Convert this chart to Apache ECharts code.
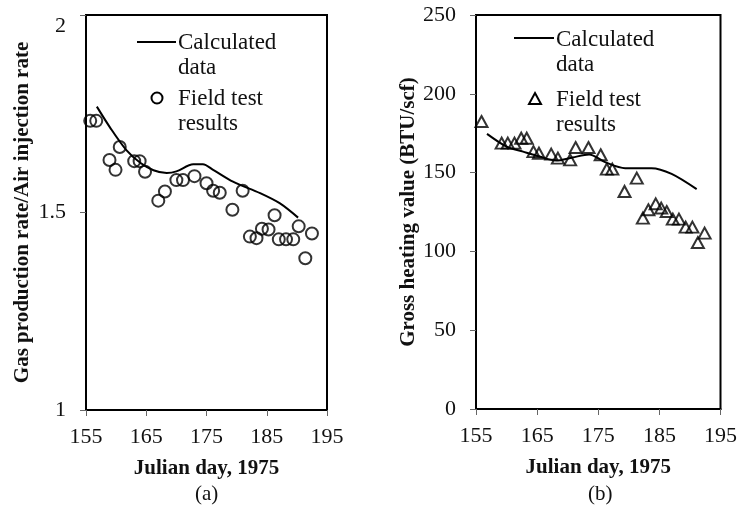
<!DOCTYPE html>
<html>
<head>
<meta charset="utf-8">
<script src="https://cdn.jsdelivr.net/npm/echarts@6/dist/echarts.min.js"></script>
<style>html,body{margin:0;padding:0;background:#fff;}#c{width:740px;height:506px;}</style>
</head>
<body>
<div id="c"></div>
<script>
// Panel (a): Gas production rate / Air injection rate
const fieldA = [[155.7,1.732],[156.7,1.732],[158.9,1.633],[159.9,1.608],[160.6,1.666],[163.0,1.63],[163.9,1.63],[164.8,1.603],[167.0,1.53],[168.1,1.553],[170.0,1.582],[171.1,1.582],[173.0,1.592],[175.0,1.574],[176.1,1.555],[177.2,1.55],[179.3,1.507],[181.0,1.555],[182.2,1.439],[183.3,1.435],[184.2,1.459],[185.3,1.457],[186.3,1.493],[187.0,1.432],[188.2,1.432],[189.4,1.432],[190.3,1.465],[191.4,1.384],[192.5,1.447]];
const calcA = [[156.8,1.768],[159.0,1.715],[161.7,1.658],[164.0,1.626],[166.2,1.607],[168.4,1.600],[170.0,1.604],[172.8,1.622],[174.4,1.622],[176.1,1.608],[179.4,1.578],[183.9,1.549],[187.2,1.523],[190.2,1.487]];
// Panel (b): Gross heating value (BTU/scf)
const fieldB = [[155.9,182.4],[159.2,168.7],[160.2,168.7],[161.3,168.7],[162.4,171.8],[163.3,171.8],[164.4,163.3],[165.3,162.3],[167.3,161.7],[168.4,159.2],[170.4,158.1],[171.3,165.9],[173.4,165.9],[175.4,161.3],[176.4,152.2],[177.3,152.2],[179.3,138.0],[181.3,146.5],[182.3,121.1],[183.2,126.4],[184.4,130.2],[185.3,127.5],[186.2,125.3],[187.2,120.5],[188.2,120.5],[189.3,115.4],[190.4,115.4],[191.3,105.6],[192.4,111.6]];
const calcB = [[156.8,174.6],[160.0,166.5],[162.7,163.3],[165.4,160.2],[168.1,157.6],[170.8,159.6],[173.5,161.5],[176.2,156.5],[179.4,152.8],[183.7,152.8],[187.0,149.2],[191.1,139.5]];

const xTicks = {min:155, max:195, interval:10};
const yTicksA = {min:1, max:2, interval:0.5};
const yTicksB = {min:0, max:250, interval:50};
const xName = 'Julian day, 1975';
const yNameA = 'Gas production rate/Air injection rate';
const yNameB = 'Gross heating value (BTU/scf)';
const legendLine = 'Calculated\ndata';
const legendPts = 'Field test\nresults';

const FONT = "'Liberation Serif','Times New Roman',serif";
const chart = echarts.init(document.getElementById('c'), null, {renderer:'canvas'});

function xAxis(gi){
  return {
    type:'value', gridIndex:gi, min:xTicks.min, max:xTicks.max, interval:xTicks.interval,
    splitLine:{show:false},
    axisLine:{lineStyle:{color:'#000', width:2}},
    axisTick:{show:true, inside:false, length:6, lineStyle:{color:'#666', width:1}},
    axisLabel:{fontFamily:FONT, fontSize:22, color:'#111', margin:16},
    name:xName, nameLocation:'middle', nameGap:48,
    nameTextStyle:{fontFamily:FONT, fontSize:21, fontWeight:'bold', color:'#111'}
  };
}
function yAxis(gi, t, name, gap, topAlign){
  return {
    type:'value', gridIndex:gi, min:t.min, max:t.max, interval:t.interval,
    splitLine:{show:false},
    axisLine:{lineStyle:{color:'#000', width:2}},
    axisTick:{show:true, inside:false, length:6, lineStyle:{color:'#666', width:1}},
    axisLabel:{fontFamily:FONT, fontSize:22, color:'#111', margin:20, verticalAlignMaxLabel: topAlign ? 'top' : null},
    name:name, nameLocation:'middle', nameGap:gap, nameRotate:90,
    nameTextStyle:{fontFamily:FONT, fontSize:21, fontWeight:'bold', color:'#111'}
  };
}

const txt = (x,y,s,sz) => ({type:'text', left:x, top:y, style:{text:s, font:(sz||23)+'px '+FONT, fill:'#111', lineHeight:25}});

chart.setOption({
  animation:false,
  backgroundColor:'#fff',
  grid:[
    {left:86, top:15, width:241, height:395, show:true, borderColor:'#000', borderWidth:2, backgroundColor:'transparent'},
    {left:476, top:15, width:247, height:394, show:true, borderColor:'#000', borderWidth:2, backgroundColor:'transparent'}
  ],
  xAxis:[xAxis(0), xAxis(1)],
  yAxis:[yAxis(0, yTicksA, yNameA, 53, true), yAxis(1, yTicksB, yNameB, 55, false)],
  series:[
    {type:'line', xAxisIndex:0, yAxisIndex:0, data:calcA, smooth:0.3, showSymbol:false, lineStyle:{color:'#000', width:2}},
    {type:'scatter', xAxisIndex:0, yAxisIndex:0, data:fieldA, symbol:'circle', symbolSize:12,
      itemStyle:{color:'rgba(0,0,0,0)', borderColor:'#000', borderWidth:2}},
    {type:'line', xAxisIndex:1, yAxisIndex:1, data:calcB, smooth:0.3, showSymbol:false, lineStyle:{color:'#000', width:2}},
    {type:'scatter', xAxisIndex:1, yAxisIndex:1, data:fieldB, symbol:'triangle', symbolSize:[12,11],
      itemStyle:{color:'rgba(0,0,0,0)', borderColor:'#000', borderWidth:2}}
  ],
  graphic:[
    // legend (a)
    {type:'line', shape:{x1:137, y1:42, x2:176, y2:42}, style:{stroke:'#000', lineWidth:2}},
    txt(178, 30, legendLine),
    {type:'circle', shape:{cx:157, cy:98, r:5.5}, style:{fill:'none', stroke:'#000', lineWidth:2}},
    txt(178, 86, legendPts),
    // legend (b)
    {type:'line', shape:{x1:514, y1:38, x2:554, y2:38}, style:{stroke:'#000', lineWidth:2}},
    txt(556, 27, legendLine),
    {type:'polygon', shape:{points:[[535,93],[541,104],[529,104]]}, style:{fill:'none', stroke:'#000', lineWidth:2}},
    txt(556, 87, legendPts),
    // panel labels
    {type:'text', left:195, top:484, style:{text:'(a)', font:'21px '+FONT, fill:'#111'}},
    {type:'text', left:588, top:484, style:{text:'(b)', font:'21px '+FONT, fill:'#111'}}
  ]
});
</script>
</body>
</html>
